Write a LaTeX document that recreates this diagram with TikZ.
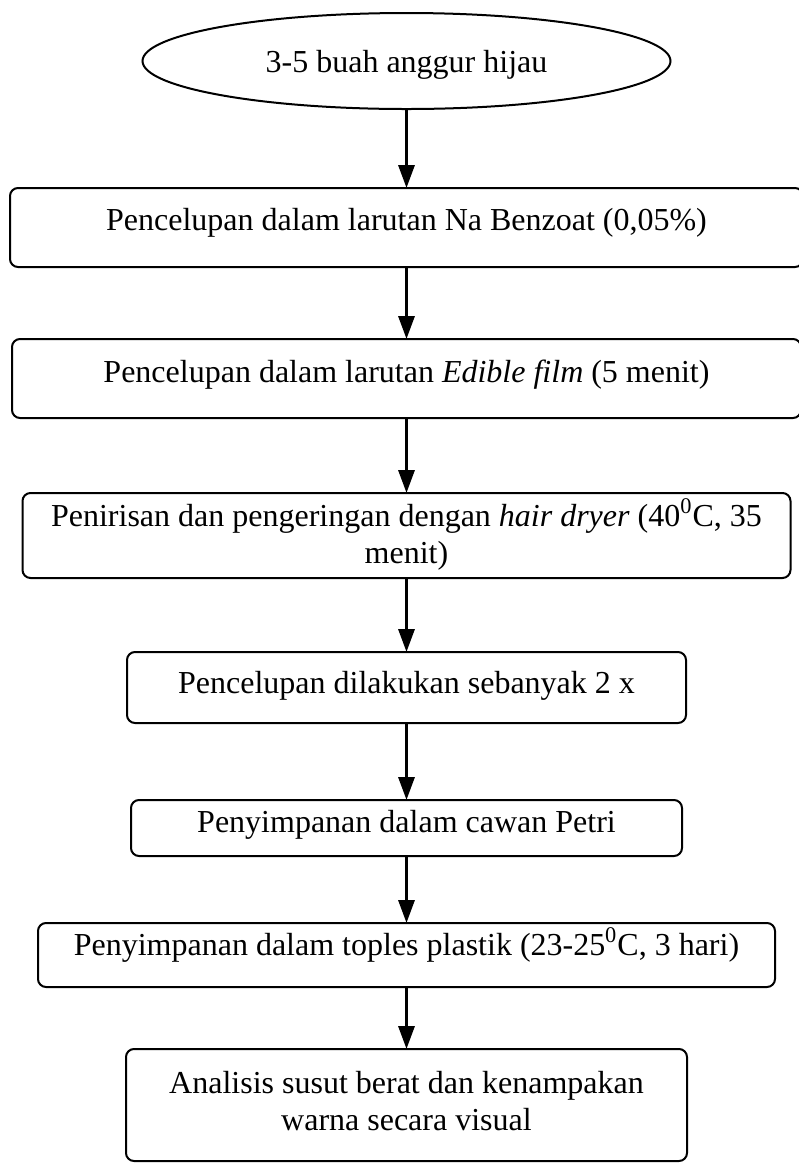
\documentclass[tikz,border=0pt]{standalone}
\usepackage{fontspec}
\setmainfont{Liberation Serif}
\usetikzlibrary{shapes.geometric,arrows.meta}
\begin{document}
\begin{tikzpicture}[x=0.5pt,y=-0.5pt,
  every node/.style={inner sep=0pt, outer sep=0pt},
  stepbox/.style={draw, line width=1pt, rounded corners=4pt, rectangle},
  startoval/.style={draw, line width=1pt, ellipse},
  steptext/.style={anchor=base, align=center, font=\fontsize{16pt}{18.5pt}\selectfont},
  flow/.style={line width=1.6pt, -{Triangle[length=11.5pt,width=8pt]}}
]
\clip (0,0) rectangle (799,1164);

% outlines of the steps
\node[startoval, minimum width=264pt, minimum height=48pt] (start) at (406.5,61) {};
\node[stepbox, minimum width=396.5pt, minimum height=39.5pt] (b1) at (406.5,227.5) {};
\node[stepbox, minimum width=394.5pt, minimum height=39.5pt] (b2) at (406.5,378.5) {};
\node[stepbox, minimum width=384pt,   minimum height=42.5pt] (b3) at (406.5,535.5) {};
\node[stepbox, minimum width=279.5pt, minimum height=35.5pt] (b4) at (406.5,687.5) {};
\node[stepbox, minimum width=275.5pt, minimum height=28pt]   (b5) at (406.5,828) {};
\node[stepbox, minimum width=368.5pt, minimum height=32pt]   (b6) at (406.5,955) {};
\node[stepbox, minimum width=280.5pt, minimum height=56pt]   (b7) at (406.5,1105) {};

% step texts (base anchor = baseline of the last line)
\node[steptext] (t0) at (406.5,72)  {3-5 buah anggur hijau};
\node[steptext] (t1) at (406.5,230) {Pencelupan dalam larutan Na Benzoat (0,05\%)};
\node[steptext] (t2) at (406.5,382) {Pencelupan dalam larutan \textit{Edible film} (5 menit)};
\node[steptext] (t3) at (406.5,563) {Penirisan dan pengeringan dengan \textit{hair dryer} (40\textsuperscript{0}C, 35\\menit)};
\node[steptext] (t4) at (406.5,693) {Pencelupan dilakukan sebanyak 2 x};
\node[steptext] (t5) at (406.5,832) {Penyimpanan dalam cawan Petri};
\node[steptext] (t6) at (406.5,955) {Penyimpanan dalam toples plastik (23-25\textsuperscript{0}C, 3 hari)};
\node[steptext] (t7) at (406.5,1130) {Analisis susut berat dan kenampakan\\warna secara visual};

% flow arrows
\draw[flow] (start.south) -- (b1.north);
\draw[flow] (b1.south) -- (b2.north);
\draw[flow] (b2.south) -- (b3.north);
\draw[flow] (b3.south) -- (b4.north);
\draw[flow] (b4.south) -- (b5.north);
\draw[flow] (b5.south) -- (b6.north);
\draw[flow] (b6.south) -- (b7.north);
\end{tikzpicture}
\end{document}
